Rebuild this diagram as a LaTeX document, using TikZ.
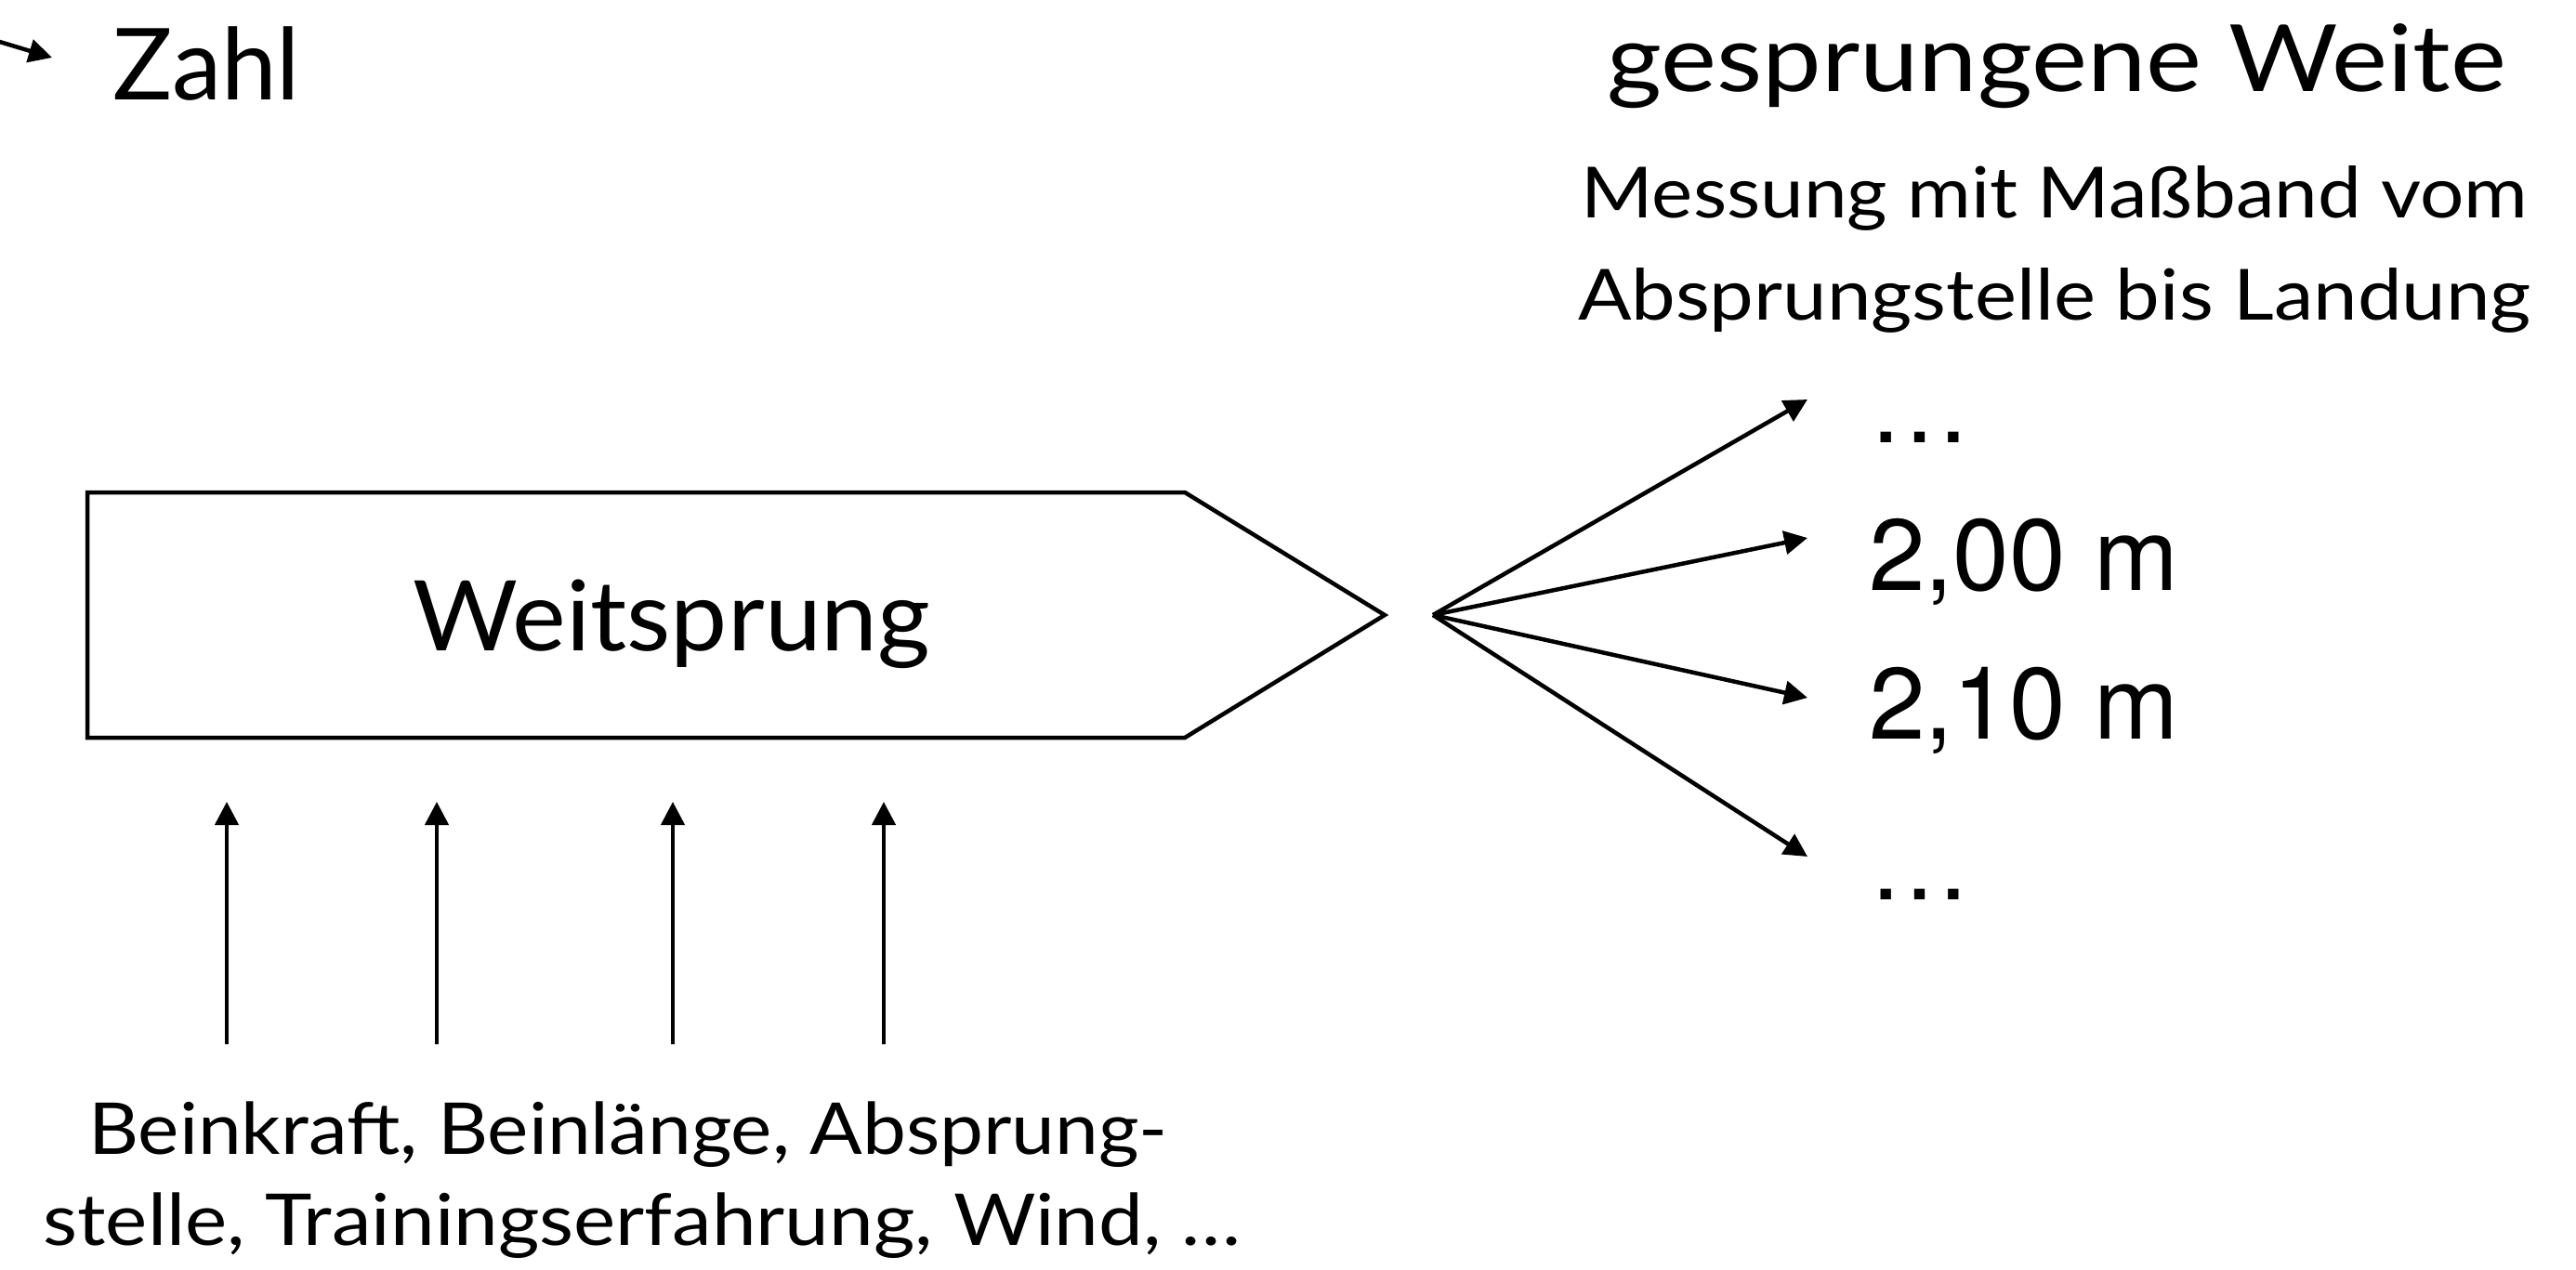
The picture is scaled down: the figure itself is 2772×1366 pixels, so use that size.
\documentclass[tikz,border=0pt]{standalone}
\usepackage{graphicx}
\usepackage{fontspec}
\setmainfont{Lato}
\newfontfamily\helv{TeX Gyre Heros}
\usetikzlibrary{arrows.meta}
\newcommand{\wide}[2]{\scalebox{#1}[1]{#2}}
\begin{document}
\begin{tikzpicture}[x=1pt,y=-1pt,
  line width=4.5pt,
  arr/.style={-{Triangle[length=25pt,width=25pt]}},
  lbl/.style={inner sep=0pt, outer sep=0pt},
  big/.style={font=\fontsize{107}{128}\selectfont},
  mid/.style={font=\fontsize{100}{120}\selectfont},
  small/.style={font=\fontsize{76}{91}\selectfont},
  bot/.style={font=\fontsize{77}{92}\selectfont},
  num/.style={font=\helv\fontsize{109}{130}\selectfont},
]
\useasboundingbox (0,0) rectangle (2772,1366);
\clip (0,0) rectangle (2772,1366);

% Zahl with partial arrow
\node[lbl, big, anchor=base west] (zahl) at (121,107) {Zahl};
\coordinate (zs) at (-60,27);
\coordinate (zt) at (56,62);
\draw[arr] (zs) -- (zt);

% pentagon
\coordinate (tip) at (1490,662);
\draw (94,530) -- (1275,530) -- (tip) -- (1275,794) -- (94,794) -- cycle;
\node[lbl, font=\fontsize{105}{126}\selectfont, anchor=base] (weit) at (723,700) {\wide{1.04}{Weitsprung}};

% fan arrows
\coordinate (fan) at (1542,662);
\coordinate (e1) at (1945,430);
\coordinate (e2) at (1945,579);
\coordinate (e3) at (1945,751);
\coordinate (e4) at (1945,922);
\foreach \e in {e1,e2,e3,e4} \draw[arr] (fan) -- (\e);

% values
\node[lbl, num, anchor=base west] (d1) at (2011,476) {…};
\node[lbl, num, anchor=base west] (v1) at (2011,635) {2,00 m};
\node[lbl, num, anchor=base west] (v2) at (2011,795) {2,10 m};
\node[lbl, num, anchor=base west] (d2) at (2011,968) {…};

% right title
\node[lbl, mid, anchor=base] (gw) at (2213,98) {\wide{1.135}{gesprungene Weite}};
\node[lbl, small, anchor=base] (m1) at (2211,234) {\wide{1.10}{Messung mit Maßband vom}};
\node[lbl, small, anchor=base] (m2) at (2211,344) {\wide{1.12}{Absprungstelle bis Landung}};

% input arrows
\foreach \i/\x in {1/244,2/470,3/724,4/951}{
  \coordinate (s\i) at (\x,1124);
  \coordinate (t\i) at (\x,863);
  \draw[arr] (s\i) -- (t\i);
}

% bottom text
\node[lbl, bot, anchor=base] (b1) at (676,1242) {\wide{1.088}{Beinkraft, Beinlänge, Absprung-}};
\node[lbl, bot, anchor=base] (b2) at (691,1340) {\wide{1.11}{stelle, Trainingserfahrung, Wind, …}};
\end{tikzpicture}
\end{document}
